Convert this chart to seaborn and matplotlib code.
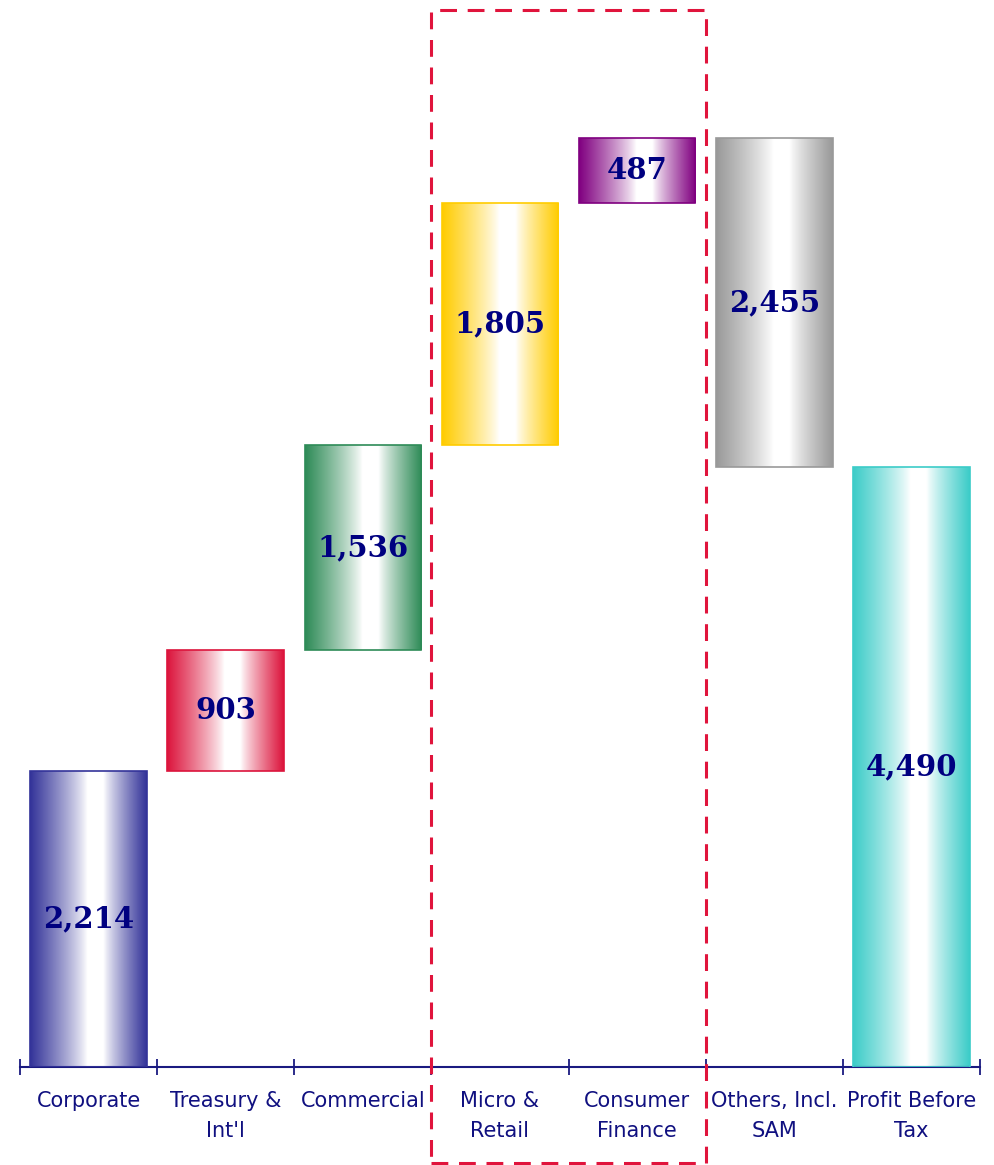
import numpy as np
import pandas as pd
import matplotlib
matplotlib.use("Agg")
import matplotlib.pyplot as plt
import seaborn as sns
from matplotlib.patches import Rectangle
from matplotlib.transforms import blended_transform_factory
from matplotlib.colors import to_rgb

categories = ["Corporate", "Treasury &\nInt'l", "Commercial", "Micro &\nRetail",
              "Consumer\nFinance", "Others, Incl.\nSAM", "Profit Before\nTax"]
values = [2214, 903, 1536, 1805, 487, -2455, 4490]
labels = ["2,214", "903", "1,536", "1,805", "487", "2,455", "4,490"]
colors = ["#333399", "#dc143c", "#2e8b57", "#ffcc00", "#800080", "#999999", "#3cccc8"]

# waterfall bottoms/tops
bottoms, tops = [], []
run = 0
for i, v in enumerate(values):
    if i == len(values) - 1:
        b, t = 0, v
    elif v >= 0:
        b, t = run, run + v
        run = t
    else:
        b, t = run + v, run
        run = b
    bottoms.append(b)
    tops.append(t)

df = pd.DataFrame({"cat": categories, "top": tops, "bottom": bottoms})

sns.set_theme(style="white")
plt.rcParams["font.family"] = ["DejaVu Sans"]
fig = plt.figure(figsize=(9.95, 11.65), dpi=100)
ax = fig.add_axes([20 / 995, 98 / 1165, 960 / 995, 1057 / 1165])

sns.barplot(data=df, x="cat", y="top", hue="cat", palette=colors, legend=False,
            width=0.85, ax=ax, saturation=1)

# gradient profile: colour at edges, white band slightly right of centre
n = 256
xs = np.linspace(0, 1, n)
c0, hw = 0.56, 0.07
left = np.clip((c0 - hw - xs) / (c0 - hw), 0, 1)
right = np.clip((xs - c0 - hw) / (1 - c0 - hw), 0, 1)
prof = np.maximum(left, right) ** 0.85

for i, p in enumerate(ax.patches[:len(categories)]):
    p.set_y(bottoms[i])
    p.set_height(tops[i] - bottoms[i])
    c = np.array(to_rgb(colors[i]))
    grad = (1 - prof[:, None]) * np.ones(3) + prof[:, None] * c
    img = np.tile(grad[None, :, :], (2, 1, 1))
    x0 = p.get_x()
    w = p.get_width()
    im = ax.imshow(img, extent=[x0, x0 + w, bottoms[i], tops[i]], aspect="auto",
                   interpolation="bilinear", zorder=2)
    im.set_clip_path(p)
    p.set_facecolor("none")
    p.set_edgecolor(colors[i])
    p.set_linewidth(1.2)
    p.set_zorder(3)
    ax.text(i, (bottoms[i] + tops[i]) / 2, labels[i], ha="center", va="center",
            fontsize=21, fontweight="bold", color="#000080",
            family=["DejaVu Serif"], zorder=4)

ax.set_xlim(-0.5, 6.5)
ax.set_ylim(0, 7905)

# axes styling
for s in ["left", "right", "top"]:
    ax.spines[s].set_visible(False)
ax.spines["bottom"].set_color("#1a1a80")
ax.spines["bottom"].set_linewidth(1.5)
ax.set_yticks([])
ax.set_xlabel("")
ax.set_ylabel("")
ax.set_xticks(range(len(categories)))
ax.set_xticklabels(categories, fontsize=15, color="#101080", linespacing=1.65)
ax.tick_params(axis="x", which="major", length=0, pad=17)
ax.set_xticks(np.arange(-0.5, 7, 1), minor=True)
ax.tick_params(axis="x", which="minor", length=11, direction="inout",
               color="#1a1a80", width=1.3, bottom=True)

# dashed highlight box
tr = blended_transform_factory(ax.transData, fig.transFigure)
box = Rectangle((2.5, 2 / 1165), 2.0, 1153 / 1165, transform=tr, fill=False,
                edgecolor="#e0143c", linewidth=2.2, linestyle=(0, (5.5, 3.5)),
                clip_on=False, zorder=5)
fig.add_artist(box)

fig.savefig("out.png", dpi=100)
